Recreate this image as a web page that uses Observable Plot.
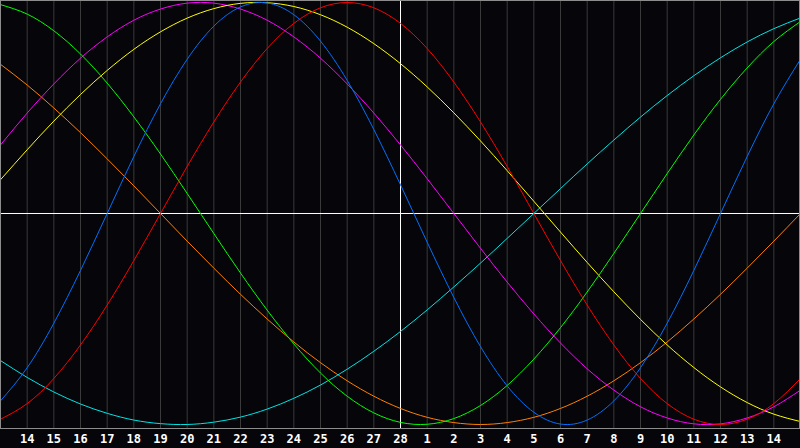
<!DOCTYPE html>
<html>
<head>
<meta charset="utf-8">
<script src="https://cdn.jsdelivr.net/npm/d3@7"></script>
<script src="https://cdn.jsdelivr.net/npm/@observablehq/plot@0.6"></script>
<style>
html, body { margin: 0; padding: 0; background: #060509; overflow: hidden; }
#chart svg { display: block; }
</style>
</head>
<body>
<div id="chart"></div>
<script>
// Day index 0..30 (left edge = 13th, today = index 15 = the 28th)
const days = [0,1,2,3,4,5,6,7,8,9,10,11,12,13,14,15,16,17,18,19,20,21,22,23,24,25,26,27,28,29,30];
const tickDays = [1,2,3,4,5,6,7,8,9,10,11,12,13,14,15,16,17,18,19,20,21,22,23,24,25,26,27,28,29];
const tickLabels = ["14","15","16","17","18","19","20","21","22","23","24","25","26","27","28",
                    "1","2","3","4","5","6","7","8","9","10","11","12","13","14"];
const todayIndex = 15;

// Cycle values in percent, read per day from the chart
const physical     = [-88.8,-73.1,-52.0,-27.0,0,27.0,52.0,73.1,88.8,97.9,99.8,94.2,81.7,63.1,39.8,13.6,-13.6,-39.8,-63.1,-81.7,-94.2,-99.8,-97.9,-88.8,-73.1,-52.0,-27.0,0,27.0,52.0,73.1];
const emotional    = [-97.5,-90.1,-78.2,-62.3,-43.4,-22.3,0,22.3,43.4,62.3,78.2,90.1,97.5,100,97.5,90.1,78.2,62.3,43.4,22.3,0,-22.3,-43.4,-62.3,-78.2,-90.1,-97.5,-100,-97.5,-90.1,-78.2];
const intellectual = [99.0,94.5,86.6,75.6,61.8,45.8,28.2,9.5,-9.5,-28.2,-45.8,-61.8,-75.6,-86.6,-94.5,-99.0,-99.9,-97.2,-91.0,-81.5,-69.0,-54.1,-37.2,-18.9,0,18.9,37.2,54.1,69.0,81.5,91.0];
const spiritual    = [-69.7,-77.7,-84.6,-90.3,-94.7,-97.9,-99.6,-100.0,-98.9,-96.5,-92.7,-87.6,-81.3,-73.8,-65.3,-55.9,-45.7,-34.8,-23.5,-11.8,0,11.8,23.5,34.8,45.7,55.9,65.3,73.8,81.3,87.6,92.7];
const aesthetic    = [16.0,30.2,43.8,56.4,67.8,77.8,86.1,92.6,97.1,99.6,99.9,98.1,94.2,88.3,80.5,71.0,60.0,47.7,34.4,20.3,5.8,-8.8,-23.2,-37.1,-50.2,-62.3,-73.0,-82.2,-89.6,-95.1,-98.6];
const intuitive    = [32.5,47.6,61.4,73.6,83.7,91.6,96.9,99.7,99.7,96.9,91.6,83.7,73.6,61.4,47.6,32.5,16.5,0,-16.5,-32.5,-47.6,-61.4,-73.6,-83.7,-91.6,-96.9,-99.7,-99.7,-96.9,-91.6,-83.7];
const awareness    = [70.7,60.9,50.0,38.3,25.9,13.1,0,-13.1,-25.9,-38.3,-50.0,-60.9,-70.7,-79.3,-86.6,-92.4,-96.6,-99.1,-100,-99.1,-96.6,-92.4,-86.6,-79.3,-70.7,-60.9,-50.0,-38.3,-25.9,-13.1,0];

const cycleNames = ["awareness","spiritual","intuitive","aesthetic","intellectual","emotional","physical"];
const cycleValues = {awareness, spiritual, intuitive, aesthetic, intellectual, emotional, physical};
const cycleColors = ["#ff8000","#00e4e4","#ff00ff","#ffff00","#00ff00","#ff0000","#0070ff"];

const rows = cycleNames.flatMap(name => days.map((d, i) => ({day: d, value: cycleValues[name][i], cycle: name})));

const chart = Plot.plot({
  width: 800,
  height: 448,
  marginLeft: 0,
  marginRight: 0,
  marginTop: 0,
  marginBottom: 20,
  style: {background: "#060509", color: "white"},
  x: {domain: [0, 30], axis: null},
  y: {domain: [-101.9, 100.95], axis: null},
  color: {domain: cycleNames, range: cycleColors},
  marks: [
    Plot.ruleX(tickDays, {stroke: "#3a3a3a", strokeWidth: 1}),
    Plot.ruleX([todayIndex], {stroke: "#ffffff", strokeWidth: 1}),
    Plot.ruleY([0], {stroke: "#ffffff", strokeWidth: 1}),
    Plot.line(rows, {x: "day", y: "value", z: "cycle", stroke: "cycle", curve: "natural", strokeWidth: 1}),
    Plot.frame({stroke: "#8c8c8c", strokeWidth: 1, insetRight: 1}),
    Plot.axisX(tickDays, {
      label: null,
      tickSize: 0,
      tickPadding: 6,
      tickFormat: d => tickLabels[d - 1],
      fill: "white",
      fontSize: 12,
      fontWeight: "bold",
      fontFamily: "DejaVu Sans Mono"
    })
  ]
});
document.getElementById("chart").appendChild(chart);
</script>
</body>
</html>
